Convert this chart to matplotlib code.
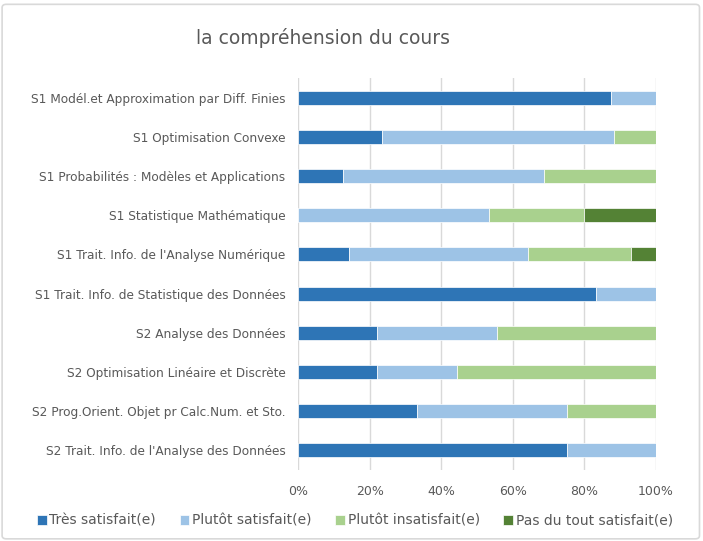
import numpy as np
import matplotlib
matplotlib.use("Agg")
import matplotlib.pyplot as plt
from matplotlib.patches import FancyBboxPatch

# ── data (shares in %) ───────────────────────────────────────────────────────
courses = [
    "S1 Modél.et Approximation par Diff. Finies",
    "S1 Optimisation Convexe",
    "S1 Probabilités : Modèles et Applications",
    "S1 Statistique Mathématique",
    "S1 Trait. Info. de l'Analyse Numérique",
    "S1 Trait. Info. de Statistique des Données",
    "S2 Analyse des Données",
    "S2 Optimisation Linéaire et Discrète",
    "S2 Prog.Orient. Objet pr Calc.Num. et Sto.",
    "S2 Trait. Info. de l'Analyse des Données",
]
tres_satisfait      = [87.5, 23.5, 12.5, 0.0, 14.3, 83.3, 22.2, 22.2, 33.3, 75.0]
plutot_satisfait    = [12.5, 64.7, 56.25, 53.3, 50.0, 16.7, 33.4, 22.2, 41.7, 25.0]
plutot_insatisfait  = [0.0, 11.8, 31.25, 26.7, 28.6, 0.0, 44.4, 55.6, 25.0, 0.0]
pas_du_tout         = [0.0, 0.0, 0.0, 20.0, 7.1, 0.0, 0.0, 0.0, 0.0, 0.0]

series = [
    ("Très satisfait(e)", tres_satisfait, "#2E75B6"),
    ("Plutôt satisfait(e)", plutot_satisfait, "#9DC3E6"),
    ("Plutôt insatisfait(e)", plutot_insatisfait, "#A9D18E"),
    ("Pas du tout satisfait(e)", pas_du_tout, "#548235"),
]

TXT = "#595959"
plt.rcParams["font.family"] = ["DejaVu Sans"]

fig = plt.figure(figsize=(7.03, 5.41), dpi=100)
ax = fig.add_axes([298 / 703, 1 - 470 / 541, 358 / 703, 392 / 541])

y = np.arange(len(courses))
left = np.zeros(len(courses))
for name, vals, col in series:
    vals = np.array(vals)
    ax.barh(y, vals, left=left, height=0.36, color=col, label=name,
            edgecolor="white", linewidth=0.5, zorder=3)
    left += vals

ax.set_ylim(len(courses) - 0.5, -0.5)
ax.set_xlim(0, 100)
ax.set_yticks(y)
ax.set_yticklabels(courses, fontsize=8.7, color=TXT)
ax.set_xticks(np.arange(0, 101, 20))
ax.set_xticklabels([f"{v}%" for v in range(0, 101, 20)], fontsize=9, color=TXT)
ax.tick_params(length=0, pad=9)
ax.tick_params(axis="x", pad=11)
ax.grid(axis="x", color="#D9D9D9", linewidth=1, zorder=0)
for s in ax.spines.values():
    s.set_visible(False)

fig.text(323 / 703, 1 - 38 / 541, "la compréhension du cours",
         fontsize=13.5, color=TXT, ha="center", va="center")

fig.legend(loc="center", bbox_to_anchor=(355 / 703, 1 - 521 / 541), ncol=4,
           frameon=False, fontsize=10, labelcolor=TXT, handlelength=0.7,
           handleheight=0.7, handletextpad=0.2, columnspacing=1.7)

# chart frame
fig.patches.append(FancyBboxPatch((0.003, 0.004), 0.992, 0.988,
                                  boxstyle="round,pad=0,rounding_size=0.006",
                                  transform=fig.transFigure, facecolor="none",
                                  edgecolor="#D9D9D9", linewidth=1.2))

fig.savefig("out.png", dpi=100, facecolor="white")
